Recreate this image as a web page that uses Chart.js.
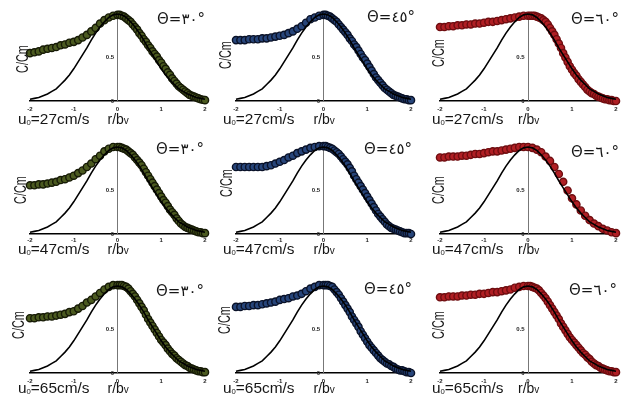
<!DOCTYPE html>
<html><head><meta charset="utf-8">
<script src="https://cdn.jsdelivr.net/npm/chart.js@4.4.0/dist/chart.umd.min.js"></script>
<style>
body{margin:0;background:#fff;width:627px;height:401px;overflow:hidden;position:relative;font-family:"Liberation Sans",Arial,sans-serif}
canvas{position:absolute}
.t{position:absolute;white-space:nowrap;color:#161616;line-height:1}
.u{font-size:14px;transform:scaleX(1.1);transform-origin:left center}
.u sub{font-size:7px;vertical-align:-1px}
.rb{font-size:14px}
.rb span{font-size:10px}
.cc{font-size:16px;transform:translate(-50%,-50%) rotate(-90deg) scaleX(0.68)}
.th{font-family:"DejaVu Sans",sans-serif;font-size:15px}
</style></head><body>
<script>
// x positions for the theory line (every 0.1)
const lineR = [-2.0,-1.9,-1.8,-1.7,-1.6,-1.5,-1.4,-1.3,-1.2,-1.1,-1.0,-0.9,-0.8,-0.7,-0.6,-0.5,-0.4,-0.3,-0.2,-0.1,
  0.0,0.1,0.2,0.3,0.4,0.5,0.6,0.7,0.8,0.9,1.0,1.1,1.2,1.3,1.4,1.5,1.6,1.7,1.8,1.9,2.0];
const gaussLine = [0.02,0.03,0.04,0.06,0.08,0.11,0.14,0.19,0.24,0.30,0.37,0.45,0.53,0.61,0.70,0.78,0.85,0.91,0.96,0.99,
  1.00,0.99,0.96,0.91,0.85,0.78,0.70,0.61,0.53,0.45,0.37,0.30,0.24,0.19,0.14,0.11,0.08,0.06,0.04,0.03,0.02];
// x positions of measured points: 0.1 apart on the left, 0.05 on the right
const dotR = [-2.0,-1.9,-1.8,-1.7,-1.6,-1.5,-1.4,-1.3,-1.2,-1.1,-1.0,-0.9,-0.8,-0.7,-0.6,-0.5,-0.4,-0.3,-0.2,-0.1,
  0.0,0.05,0.1,0.15,0.2,0.25,0.3,0.35,0.4,0.45,0.5,0.55,0.6,0.65,0.7,0.75,0.8,0.85,0.9,0.95,
  1.0,1.05,1.1,1.15,1.2,1.25,1.3,1.35,1.4,1.45,1.5,1.55,1.6,1.65,1.7,1.75,1.8,1.85,1.9,1.95,2.0];
// sparser sampling (u0 = 47, theta 60)
const sparseR = lineR;

// measured C/Cm, u0 = 27 cm/s
const u27_t30 = [0.55,0.56,0.57,0.59,0.60,0.61,0.62,0.64,0.65,0.67,0.68,0.70,0.73,0.76,0.80,0.84,0.89,0.93,0.96,0.98,
  0.99,0.99,0.98,0.97,0.95,0.93,0.91,0.88,0.85,0.82,0.78,0.75,0.71,0.68,0.64,0.61,0.57,0.54,0.51,0.47,
  0.44,0.40,0.37,0.33,0.30,0.26,0.23,0.20,0.17,0.15,0.13,0.11,0.09,0.07,0.06,0.05,0.04,0.03,0.02,0.015,0.01];
const u27_t45 = [0.70,0.70,0.70,0.71,0.71,0.71,0.72,0.72,0.73,0.74,0.75,0.76,0.78,0.80,0.83,0.86,0.90,0.94,0.96,0.98,
  0.99,0.99,0.98,0.97,0.95,0.93,0.91,0.88,0.85,0.82,0.79,0.76,0.72,0.69,0.65,0.62,0.58,0.54,0.50,0.47,
  0.43,0.39,0.35,0.31,0.27,0.24,0.21,0.18,0.15,0.13,0.11,0.09,0.07,0.06,0.05,0.04,0.03,0.02,0.02,0.01,0.01];
const u27_t60 = [0.85,0.85,0.86,0.86,0.87,0.87,0.88,0.88,0.89,0.89,0.90,0.91,0.91,0.92,0.93,0.94,0.95,0.96,0.97,0.98,
  0.98,0.98,0.98,0.98,0.97,0.96,0.95,0.93,0.91,0.88,0.84,0.80,0.76,0.71,0.66,0.61,0.55,0.50,0.45,0.40,
  0.36,0.32,0.29,0.25,0.22,0.19,0.16,0.13,0.11,0.09,0.08,0.06,0.05,0.04,0.03,0.02,0.02,0.01,0.01,0.00,0.00];
// u0 = 47 cm/s
const u47_t30 = [0.56,0.56,0.57,0.57,0.58,0.59,0.60,0.62,0.63,0.65,0.67,0.70,0.73,0.77,0.81,0.86,0.90,0.95,0.98,1.00,
  1.00,1.00,0.99,0.98,0.97,0.95,0.93,0.91,0.88,0.85,0.82,0.79,0.75,0.71,0.67,0.63,0.59,0.55,0.51,0.47,
  0.43,0.39,0.36,0.32,0.28,0.25,0.22,0.18,0.15,0.12,0.10,0.08,0.07,0.06,0.05,0.04,0.03,0.02,0.02,0.01,0.01];
const u47_t45 = [0.77,0.77,0.77,0.77,0.77,0.77,0.77,0.78,0.79,0.81,0.83,0.85,0.88,0.90,0.93,0.95,0.97,0.99,1.00,1.01,
  1.01,1.01,1.00,0.99,0.98,0.96,0.94,0.92,0.89,0.86,0.83,0.80,0.76,0.72,0.67,0.63,0.59,0.55,0.51,0.47,
  0.43,0.39,0.35,0.31,0.27,0.23,0.20,0.17,0.14,0.11,0.09,0.07,0.06,0.05,0.04,0.03,0.02,0.01,0.01,0.01,0.00];
const u47_t60 = [0.88,0.88,0.89,0.89,0.89,0.90,0.90,0.91,0.92,0.92,0.93,0.94,0.95,0.95,0.96,0.97,0.98,0.99,1.00,1.00,
  1.00,0.99,0.97,0.94,0.89,0.84,0.77,0.69,0.60,0.50,0.41,0.34,0.27,0.21,0.16,0.12,0.09,0.06,0.04,0.02,0.01];
// u0 = 65 cm/s
const u65_t30 = [0.63,0.63,0.64,0.64,0.65,0.65,0.66,0.67,0.68,0.70,0.71,0.74,0.77,0.81,0.84,0.88,0.92,0.96,0.99,1.01,
  1.01,1.01,1.01,1.00,0.99,0.97,0.94,0.91,0.88,0.84,0.80,0.76,0.72,0.67,0.62,0.58,0.54,0.50,0.46,0.42,
  0.38,0.35,0.32,0.28,0.25,0.22,0.20,0.17,0.15,0.13,0.11,0.09,0.08,0.06,0.05,0.04,0.03,0.02,0.02,0.01,0.01];
const u65_t45 = [0.76,0.76,0.77,0.77,0.78,0.78,0.79,0.80,0.81,0.82,0.84,0.85,0.86,0.88,0.89,0.91,0.94,0.97,0.99,1.01,
  1.01,1.01,1.01,1.00,0.99,0.96,0.93,0.90,0.86,0.82,0.78,0.74,0.70,0.65,0.61,0.57,0.53,0.48,0.44,0.40,
  0.36,0.32,0.29,0.26,0.23,0.20,0.17,0.15,0.13,0.11,0.10,0.08,0.07,0.05,0.04,0.03,0.03,0.02,0.01,0.01,0.00];
const u65_t60 = [0.87,0.87,0.88,0.88,0.88,0.89,0.89,0.90,0.90,0.91,0.91,0.92,0.93,0.93,0.94,0.95,0.96,0.98,0.99,1.00,
  1.00,1.00,0.99,0.98,0.97,0.95,0.92,0.89,0.86,0.82,0.78,0.74,0.70,0.66,0.62,0.57,0.53,0.49,0.45,0.41,
  0.38,0.35,0.32,0.29,0.26,0.23,0.21,0.18,0.16,0.13,0.11,0.09,0.08,0.06,0.05,0.04,0.03,0.02,0.02,0.01,0.01];

const speeds = ['27','47','65'];
const angles = ['\u0663\u0660','\u0664\u0665','\u0666\u0660'];
const yTicks = [0, 0.5];
const series = [[u27_t30,u27_t45,u27_t60],[u47_t30,u47_t45,u47_t60],[u65_t30,u65_t45,u65_t60]];
const seriesR = [[dotR,dotR,dotR],[dotR,dotR,sparseR],[dotR,dotR,dotR]];

const colors = [{fill:'#4b5a20',edge:'#161a06'},{fill:'#27457a',edge:'#0a1228'},{fill:'#b01f24',edge:'#6e0d10'}];
const colX = [[30,205],[236,411],[440,616]];
const rowY = [[14,101],[147,234],[286,373]];
const thetaPos = [[[157,20],[367,18],[571,20]],[[156,150],[364,150],[571,153]],[[156,292],[364,290],[569,291]]];
const ccPos = [[[23,59],[226,55],[439,53]],[[21,190],[227,183],[439,190]],[[19,325],[225,320],[439,325]]];
const uLeft = [18,223,432], uY = [119,249,388];

function addText(cls, html, x, y){
  const d=document.createElement('div');
  d.className='t '+cls; d.innerHTML=html;
  d.style.left=x+'px'; d.style.top=y+'px';
  document.body.appendChild(d);
  return d;
}

function makePanel(i,j){
  const [xl,xr]=colX[j], [yt,yb]=rowY[i];
  const pad=8, axisH=14;
  const c=document.createElement('canvas');
  const w=xr-xl+2*pad, h=yb-yt+pad+axisH;
  c.width=w; c.height=h;
  c.style.left=(xl-pad)+'px'; c.style.top=(yt-pad)+'px';
  c.style.width=w+'px'; c.style.height=h+'px';
  document.body.appendChild(c);
  const vals=series[i][j], xs=seriesR[i][j], col=colors[j];
  new Chart(c,{type:'scatter',
    data:{datasets:[
      {data:lineR.map((x,k)=>({x,y:gaussLine[k]})),showLine:true,pointRadius:0,borderColor:'#000',borderWidth:1.6,clip:false},
      {data:xs.map((x,k)=>({x,y:vals[k]})),pointRadius:3.6,backgroundColor:col.fill,borderColor:col.edge,borderWidth:1.4,clip:false}
    ]},
    options:{responsive:false,animation:false,events:[],
      layout:{padding:{left:pad,right:pad,top:pad,bottom:0}},
      plugins:{legend:{display:false},tooltip:{enabled:false}},
      scales:{
        x:{type:'linear',min:-2,max:2,grid:{display:false,drawTicks:false},border:{color:'#000',width:1.5},
           ticks:{stepSize:1,padding:i===1?3:5,color:'#222',font:{size:6,weight:'bold'}},
           afterFit:s=>{s.height=axisH;}},
        y:{min:0,max:1,position:{x:0},grid:{display:false,drawTicks:false},border:{color:'#777',width:1},
           afterBuildTicks:s=>{s.ticks=yTicks.map(v=>({value:v}));},
           ticks:{color:'#222',font:{size:6,weight:'bold'},callback:v=>String(v)+'  '}}
      }}});
  const x0=(xl+xr)/2;
  addText('u','u<sub>0</sub>='+speeds[i]+'cm/s',uLeft[j],uY[i]-7);
  addText('rb','r/b<span>v</span>',x0-10,uY[i]-7);
  const cc=ccPos[i][j];
  addText('cc','C/Cm',cc[0],cc[1]);
  const tp=thetaPos[i][j];
  addText('th','\u0398='+angles[j]+'\u00b0',tp[0],tp[1]-8);
}

for(let i=0;i<3;i++) for(let j=0;j<3;j++) makePanel(i,j);
</script>
</body></html>
